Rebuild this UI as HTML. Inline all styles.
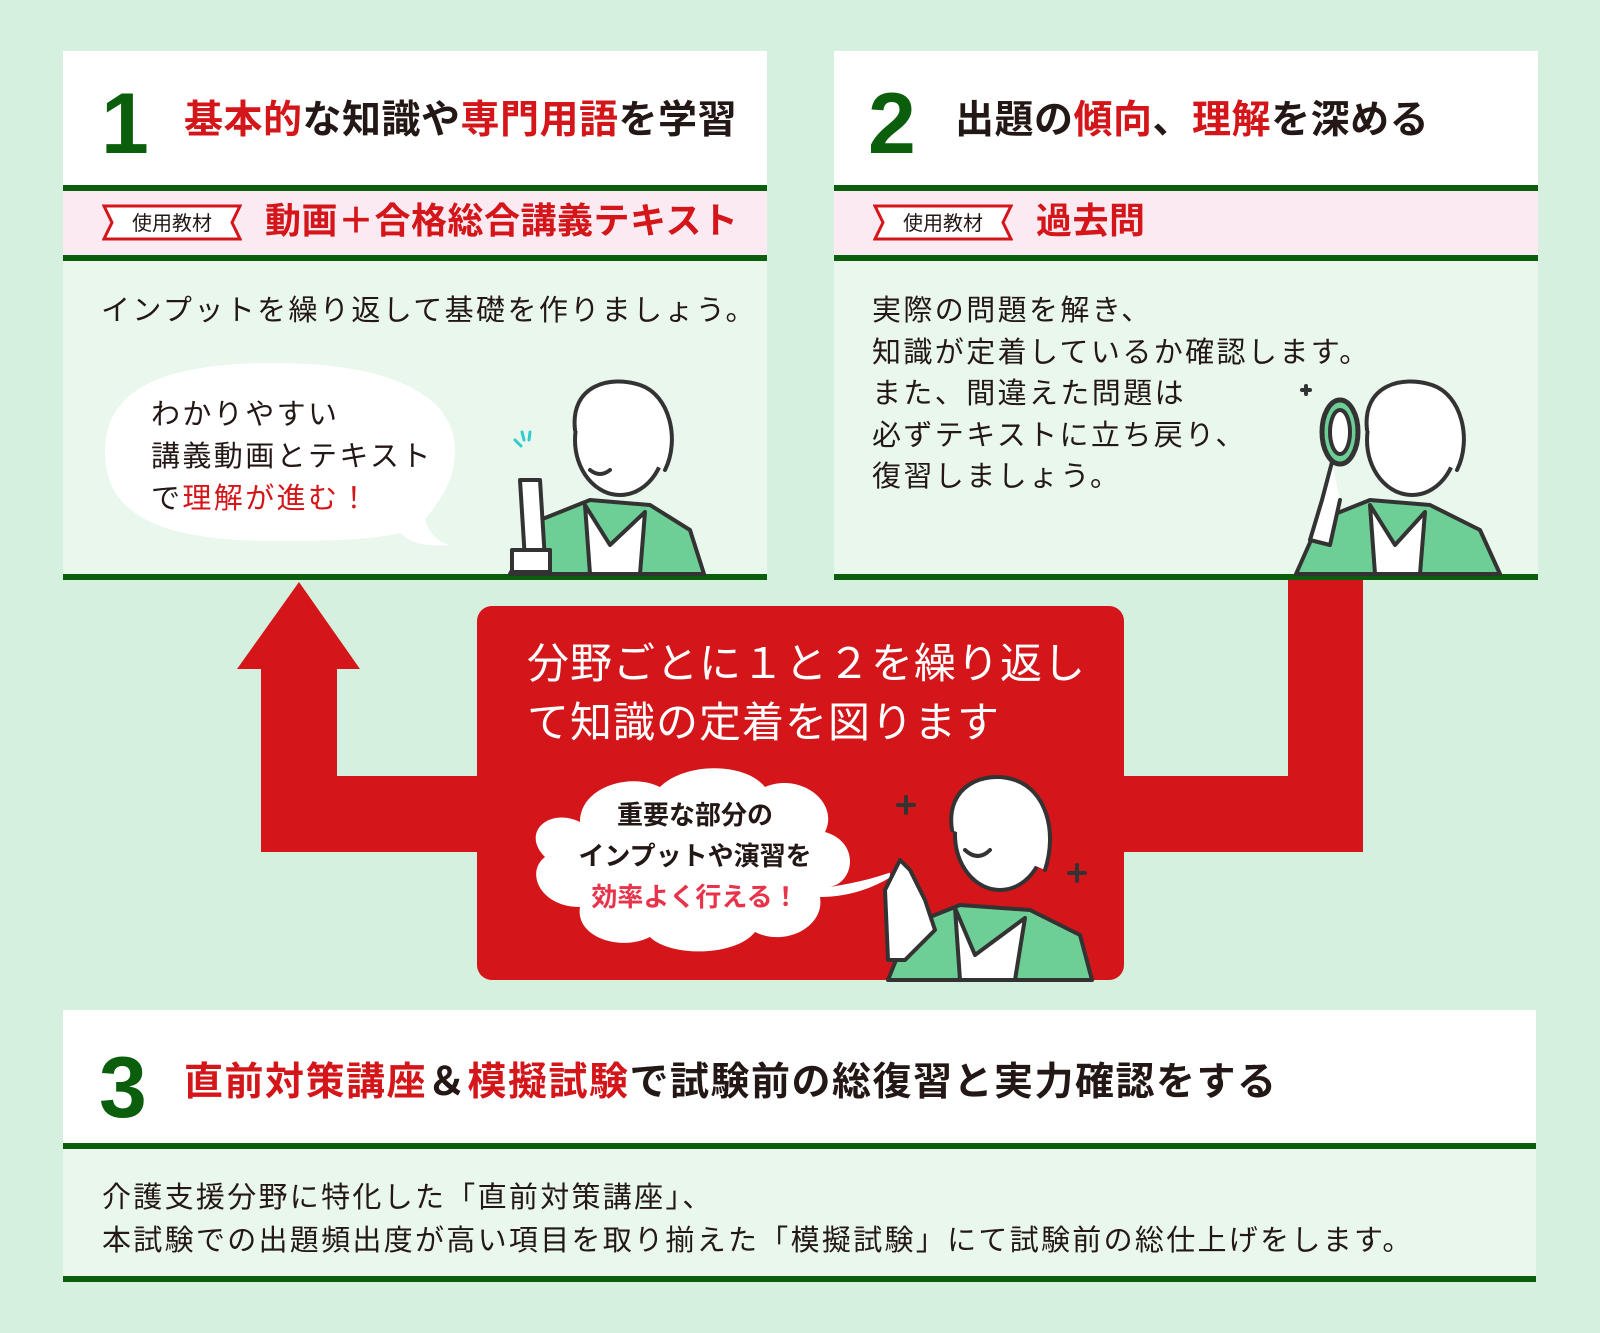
<!DOCTYPE html>
<html><head><meta charset="utf-8"><style>
*{margin:0;padding:0;box-sizing:border-box}
body{width:1600px;height:1333px;background:#d5f0de;position:relative;overflow:hidden;font-family:"Liberation Sans","Noto Sans CJK JP",sans-serif;color:#231815}
.a{position:absolute;white-space:nowrap}
.red{color:#d4161a}
.card{position:absolute;background:#e9f7ed}
.hd{position:absolute;left:0;right:0;top:0;background:#fff}
.gl{position:absolute;left:0;right:0;height:6px;background:#0b5e0b}
.pk{position:absolute;left:0;right:0;background:#fbeaf1}
.num{position:absolute;font-weight:bold;color:#0b5e0b;font-size:86px;line-height:1}
.tt{position:absolute;font-weight:bold;font-size:39px;line-height:1;letter-spacing:0.5px}
.badge{position:absolute;width:140px;height:37px}
.bt{font-size:29px;line-height:41.5px;letter-spacing:2.4px}
</style></head><body>

<svg class="a" style="left:0;top:0" width="1600" height="1333">
<polygon points="299,582 360,669 337,669 337,776 480,776 480,852 261,852 261,669 237,669" fill="#d4161a"/>
<polygon points="1288,580 1363,580 1363,852 1120,852 1120,776 1288,776" fill="#d4161a"/>
</svg>

<div class="card" style="left:63px;top:51px;width:704px;height:529px">
 <div class="hd" style="height:134px"></div>
 <div class="gl" style="top:134px"></div>
 <div class="pk" style="top:140px;height:64px"></div>
 <div class="gl" style="top:204px"></div>
 <div class="gl" style="top:523px"></div>
 <div class="num" style="left:38px;top:30px">1</div>
 <div class="tt" style="left:121px;top:50px"><span class="red">基本的</span>な知識や<span class="red">専門用語</span>を学習</div>
 <svg class="badge" style="left:39px;top:153px" viewBox="0 0 140 37"><polygon points="2,2 138,2 130,18.5 138,35 2,35 10,18.5" fill="#fff" stroke="#d4161a" stroke-width="3"/><text x="70" y="26" text-anchor="middle" font-size="20" font-family="Liberation Sans,Noto Sans CJK JP,sans-serif" fill="#231815">使用教材</text></svg>
 <div class="tt red" style="left:202px;top:152px;font-size:36px">動画＋合格総合講義テキスト</div>
 <div class="a bt" style="left:38px;top:240px">インプットを繰り返して基礎を作りましょう。</div>
</div>

<div class="card" style="left:834px;top:51px;width:704px;height:529px">
 <div class="hd" style="height:134px"></div>
 <div class="gl" style="top:134px"></div>
 <div class="pk" style="top:140px;height:64px"></div>
 <div class="gl" style="top:204px"></div>
 <div class="gl" style="top:523px"></div>
 <div class="num" style="left:34px;top:30px">2</div>
 <div class="tt" style="left:121px;top:50px">出題の<span class="red">傾向</span>、<span class="red">理解</span>を深める</div>
 <svg class="badge" style="left:39px;top:153px" viewBox="0 0 140 37"><polygon points="2,2 138,2 130,18.5 138,35 2,35 10,18.5" fill="#fff" stroke="#d4161a" stroke-width="3"/><text x="70" y="26" text-anchor="middle" font-size="20" font-family="Liberation Sans,Noto Sans CJK JP,sans-serif" fill="#231815">使用教材</text></svg>
 <div class="tt red" style="left:202px;top:152px;font-size:36px">過去問</div>
 <div class="a bt" style="left:38px;top:240px">実際の問題を解き、<br>知識が定着しているか確認します。<br>また、間違えた問題は<br>必ずテキストに立ち戻り、<br>復習しましょう。</div>
</div>

<svg class="a" style="left:100px;top:355px" width="360" height="195">
<path d="M175,8 C290,8 355,40 355,95 C355,135 330,155 325,165 C330,180 340,188 350,190 C325,192 310,188 300,178 C270,185 230,186 175,186 C60,186 5,160 5,97 C5,35 60,8 175,8 Z" fill="#fff"/>
</svg>
<div class="a bt" style="left:151px;top:394px;line-height:42px">わかりやすい<br>講義動画とテキスト<br>で<span class="red">理解が進む！</span></div>

<div class="a" style="left:477px;top:606px;width:647px;height:374px;background:#d4161a;border-radius:15px"></div>
<div class="a" style="left:527px;top:634px;color:#fff;font-size:42px;line-height:59px;letter-spacing:1px">分野ごとに１と２を繰り返し<br>て知識の定着を図ります</div>
<svg class="a" style="left:520px;top:762px" width="370" height="200">
<path d="M60,60 C60,25 110,10 140,25 C165,0 225,0 245,25 C280,10 320,40 305,70 C340,80 335,120 310,125 C340,120 360,115 385,105 C360,125 330,135 300,135 C305,165 265,185 235,170 C215,195 150,195 130,175 C100,190 55,175 60,145 C20,145 5,110 25,95 C0,70 30,45 60,60 Z" fill="#fff"/>
</svg>
<div class="a" style="left:550px;top:795px;width:290px;text-align:center;font-weight:bold;font-size:26px;line-height:41px">重要な部分の<br>インプットや演習を<br><span style="color:#e8334a">効率よく行える！</span></div>

<svg class="a" style="left:0;top:0" width="1600" height="1333" fill="none" stroke="#333" stroke-width="4" stroke-linejoin="round" stroke-linecap="round">
 <g>
  <path d="M510,574 L540,520 L590,500 L650,505 L690,530 L704,574 Z" fill="#6ecf96"/>
  <path d="M585,505 L610,545 L645,512 L640,574 L590,574 Z" fill="#fff"/>
  <ellipse cx="620" cy="440" rx="45" ry="55" fill="#fff"/>
  <path d="M575,430 C570,385 610,375 640,385 C670,395 680,440 665,470" fill="#fff"/>
  <path d="M590,470 Q600,478 610,470"/>
  <path d="M520,480 L525,560 L545,560 L540,480 Z" fill="#fff"/>
  <path d="M512,550 L550,550 L550,572 L512,572 Z" fill="#fff"/>
 </g>
 <path d="M515,440 l6,6 M522,432 l2,8 M530,432 l-1,8" stroke="#3cc" stroke-width="3"/>
 <g>
  <path d="M1296,574 L1320,520 L1370,500 L1430,505 L1480,530 L1500,574 Z" fill="#6ecf96"/>
  <path d="M1370,505 L1395,545 L1425,512 L1420,574 L1375,574 Z" fill="#fff"/>
  <ellipse cx="1412" cy="440" rx="45" ry="55" fill="#fff"/>
  <path d="M1367,430 C1362,385 1402,375 1432,385 C1462,395 1472,440 1457,470" fill="#fff"/>
  <ellipse cx="1340" cy="432" rx="18" ry="32" fill="#6ecf96" stroke-width="5"/>
  <ellipse cx="1340" cy="432" rx="10" ry="22" fill="#fff"/>
  <path d="M1332,462 L1322,500 L1310,540 L1330,545 L1340,500" fill="#fff"/>
  <path d="M1302,390 l8,0 M1306,386 l0,8"/>
 </g>
 <g>
  <path d="M888,980 L910,925 L960,905 L1030,910 L1080,935 L1092,980 Z" fill="#6ecf96"/>
  <path d="M955,908 L975,955 L1025,918 L1015,980 L960,980 Z" fill="#fff"/>
  <ellipse cx="1000" cy="835" rx="45" ry="55" fill="#fff"/>
  <path d="M952,830 C945,785 985,770 1015,780 C1045,790 1058,830 1045,870" fill="#fff"/>
  <path d="M965,850 Q978,862 990,850"/>
  <path d="M885,890 L900,860 L910,870 L925,900 L935,930 L905,960 L888,960 Z" fill="#fff"/>
  <path d="M906,797 l0,16 M898,805 l16,0 M1077,865 l0,16 M1069,873 l16,0"/>
 </g>
</svg>

<div class="card" style="left:63px;top:1010px;width:1473px;height:272px">
 <div class="hd" style="height:133px"></div>
 <div class="gl" style="top:133px"></div>
 <div class="gl" style="top:266px"></div>
 <div class="num" style="left:36px;top:35px">3</div>
 <div class="tt" style="left:121px;top:53px;letter-spacing:1.5px"><span class="red">直前対策講座</span>＆<span class="red">模擬試験</span>で試験前の総復習と実力確認をする</div>
 <div class="a bt" style="left:39px;top:167px;line-height:43px;letter-spacing:2.3px">介護支援分野に特化した「直前対策講座」、<br>本試験での出題頻出度が高い項目を取り揃えた「模擬試験」にて試験前の総仕上げをします。</div>
</div>
</body></html>
